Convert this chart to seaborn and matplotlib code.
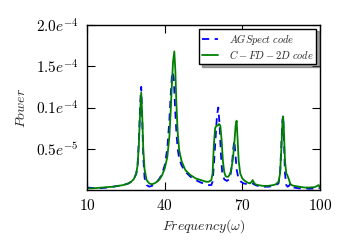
import numpy as np
import pandas as pd
import seaborn as sns
import matplotlib
matplotlib.use("Agg")
import matplotlib.pyplot as plt

# AGSpect code (power in units of 1e-4)
ag_freq = [10, 12, 14, 16, 18, 20, 22, 24, 26, 27, 28, 29, 29.5, 30, 30.5, 30.9, 31.3, 31.7, 32.2, 33,
           34, 35, 36, 37, 38, 39, 40, 41, 41.8, 42.3, 42.8, 43.1, 43.5, 44, 44.5, 45, 45.6, 46.5, 48, 50,
           52, 54, 56, 57, 58, 58.5, 59, 59.6, 60.2, 60.7, 61.2, 61.7, 62.2, 63, 64, 65, 65.5, 66, 66.5, 66.9,
           67.3, 67.8, 68.5, 69.5, 70.5, 72, 73, 74, 75, 76, 78, 80, 82, 83, 84, 84.6, 85.1, 85.5, 85.8, 86.1,
           86.5, 87, 87.5, 88, 88.8, 89.5, 90, 92, 94, 96, 98, 99, 100]
ag_pow = [0.03, 0.025, 0.02, 0.025, 0.03, 0.04, 0.05, 0.06, 0.08, 0.1, 0.13, 0.2, 0.3, 0.6, 1.05, 1.25, 0.85, 0.4, 0.15, 0.06,
          0.04, 0.05, 0.07, 0.1, 0.14, 0.2, 0.3, 0.5, 0.85, 1.15, 1.4, 1.43, 1.35, 1.0, 0.7, 0.5, 0.38, 0.3, 0.22, 0.16,
          0.12, 0.09, 0.07, 0.06, 0.06, 0.1, 0.3, 0.6, 0.9, 1.0, 0.8, 0.45, 0.22, 0.13, 0.11, 0.13, 0.2, 0.3, 0.5, 0.6,
          0.45, 0.25, 0.14, 0.1, 0.08, 0.07, 0.07, 0.08, 0.06, 0.05, 0.04, 0.04, 0.05, 0.06, 0.08, 0.2, 0.55, 0.85, 0.9, 0.6,
          0.2, 0.06, 0.04, 0.05, 0.08, 0.04, 0.03, 0.02, 0.02, 0.015, 0.02, 0.03, 0.02]

# C-FD-2D code (power in units of 1e-4)
fd_freq = [10, 12, 14, 16, 18, 20, 22, 24, 26, 27, 28, 29, 29.5, 30, 30.5, 30.9, 31.3, 31.7, 32.2, 33,
           34, 35, 36, 37, 38, 39, 40, 41, 41.8, 42.3, 42.8, 43.2, 43.7, 44.1, 44.5, 45, 45.6, 46.5, 48, 50,
           52, 54, 56, 57, 58, 58.5, 59, 59.5, 60, 60.5, 61, 61.5, 62, 62.5, 63, 63.5, 64, 64.5, 65, 65.5,
           66, 66.5, 67, 67.4, 67.8, 68.2, 68.6, 69.2, 70, 71, 72, 73, 73.6, 74, 74.5, 75, 76, 78, 80, 82,
           83, 84, 84.6, 85.1, 85.5, 85.8, 86.1, 86.5, 87, 87.4, 88, 88.5, 89, 90, 92, 94, 96, 98, 99, 99.5, 100]
fd_pow = [0.02, 0.02, 0.025, 0.03, 0.035, 0.04, 0.05, 0.06, 0.08, 0.1, 0.13, 0.2, 0.3, 0.55, 0.95, 1.18, 0.9, 0.5, 0.25, 0.12,
          0.08, 0.07, 0.08, 0.1, 0.13, 0.18, 0.26, 0.4, 0.65, 0.95, 1.3, 1.55, 1.68, 1.45, 1.05, 0.7, 0.48, 0.35, 0.24, 0.18,
          0.14, 0.12, 0.1, 0.1, 0.12, 0.2, 0.55, 0.75, 0.78, 0.78, 0.8, 0.78, 0.6, 0.35, 0.22, 0.17, 0.16, 0.16, 0.18, 0.22,
          0.3, 0.42, 0.6, 0.78, 0.84, 0.6, 0.35, 0.2, 0.14, 0.11, 0.09, 0.08, 0.1, 0.12, 0.09, 0.07, 0.06, 0.05, 0.05, 0.06,
          0.07, 0.1, 0.2, 0.5, 0.8, 0.89, 0.7, 0.35, 0.2, 0.18, 0.13, 0.08, 0.06, 0.05, 0.04, 0.03, 0.03, 0.035, 0.05, 0.06, 0.03]

x_ticks = [10, 40, 70, 100]
y_ticks = [0.5e-4, 1.0e-4, 1.5e-4, 2.0e-4]
y_tick_labels = [r"$0.5e^{-5}$", r"$0.1e^{-4}$", r"$1.5e^{-4}$", r"$2.0e^{-4}$"]

sns.set_style("ticks")
plt.rcParams.update({
    "mathtext.fontset": "cm",
    "font.family": ["DejaVu Serif"],
    "xtick.direction": "in",
    "ytick.direction": "in",
    "xtick.top": True,
    "ytick.right": True,
    "axes.edgecolor": "black",
    "axes.linewidth": 1.0,
})

fig = plt.figure(figsize=(3.5, 2.5), dpi=100)
ax = fig.add_axes([0.249, 0.24, 0.665, 0.66])

ag = pd.DataFrame({"freq": ag_freq, "power": np.array(ag_pow) * 1e-4})
fd = pd.DataFrame({"freq": fd_freq, "power": np.array(fd_pow) * 1e-4})

sns.lineplot(data=ag, x="freq", y="power", ax=ax, color="#0000ff", linestyle=(0, (4, 3)),
             linewidth=1.3, label=r"$AGSpect\ code$")
sns.lineplot(data=fd, x="freq", y="power", ax=ax, color="#008000", linewidth=1.3,
             label=r"$C-FD-2D\ code$")

ax.set_xlim(10, 100)
ax.set_ylim(0, 2.0e-4)
ax.set_xticks(x_ticks)
ax.set_xticklabels([f"${t}$" for t in x_ticks], fontsize=11)
ax.set_yticks(y_ticks)
ax.set_yticklabels(y_tick_labels, fontsize=11)
ax.tick_params(length=6, width=0.8, pad=6, colors="black")
ax.set_xlabel(r"$Frequency(\omega)$", fontsize=10, labelpad=3)
ax.set_ylabel(r"$Power$", fontsize=10, labelpad=6)

leg = ax.legend(loc="upper right", fontsize=7.5, fancybox=False, shadow=True, frameon=True,
                handlelength=1.5, handletextpad=1.0, borderpad=0.3, labelspacing=0.1,
                borderaxespad=0.35)
leg.get_frame().set_edgecolor("black")
leg.get_frame().set_linewidth(1.0)

fig.savefig("out.png", dpi=100)
